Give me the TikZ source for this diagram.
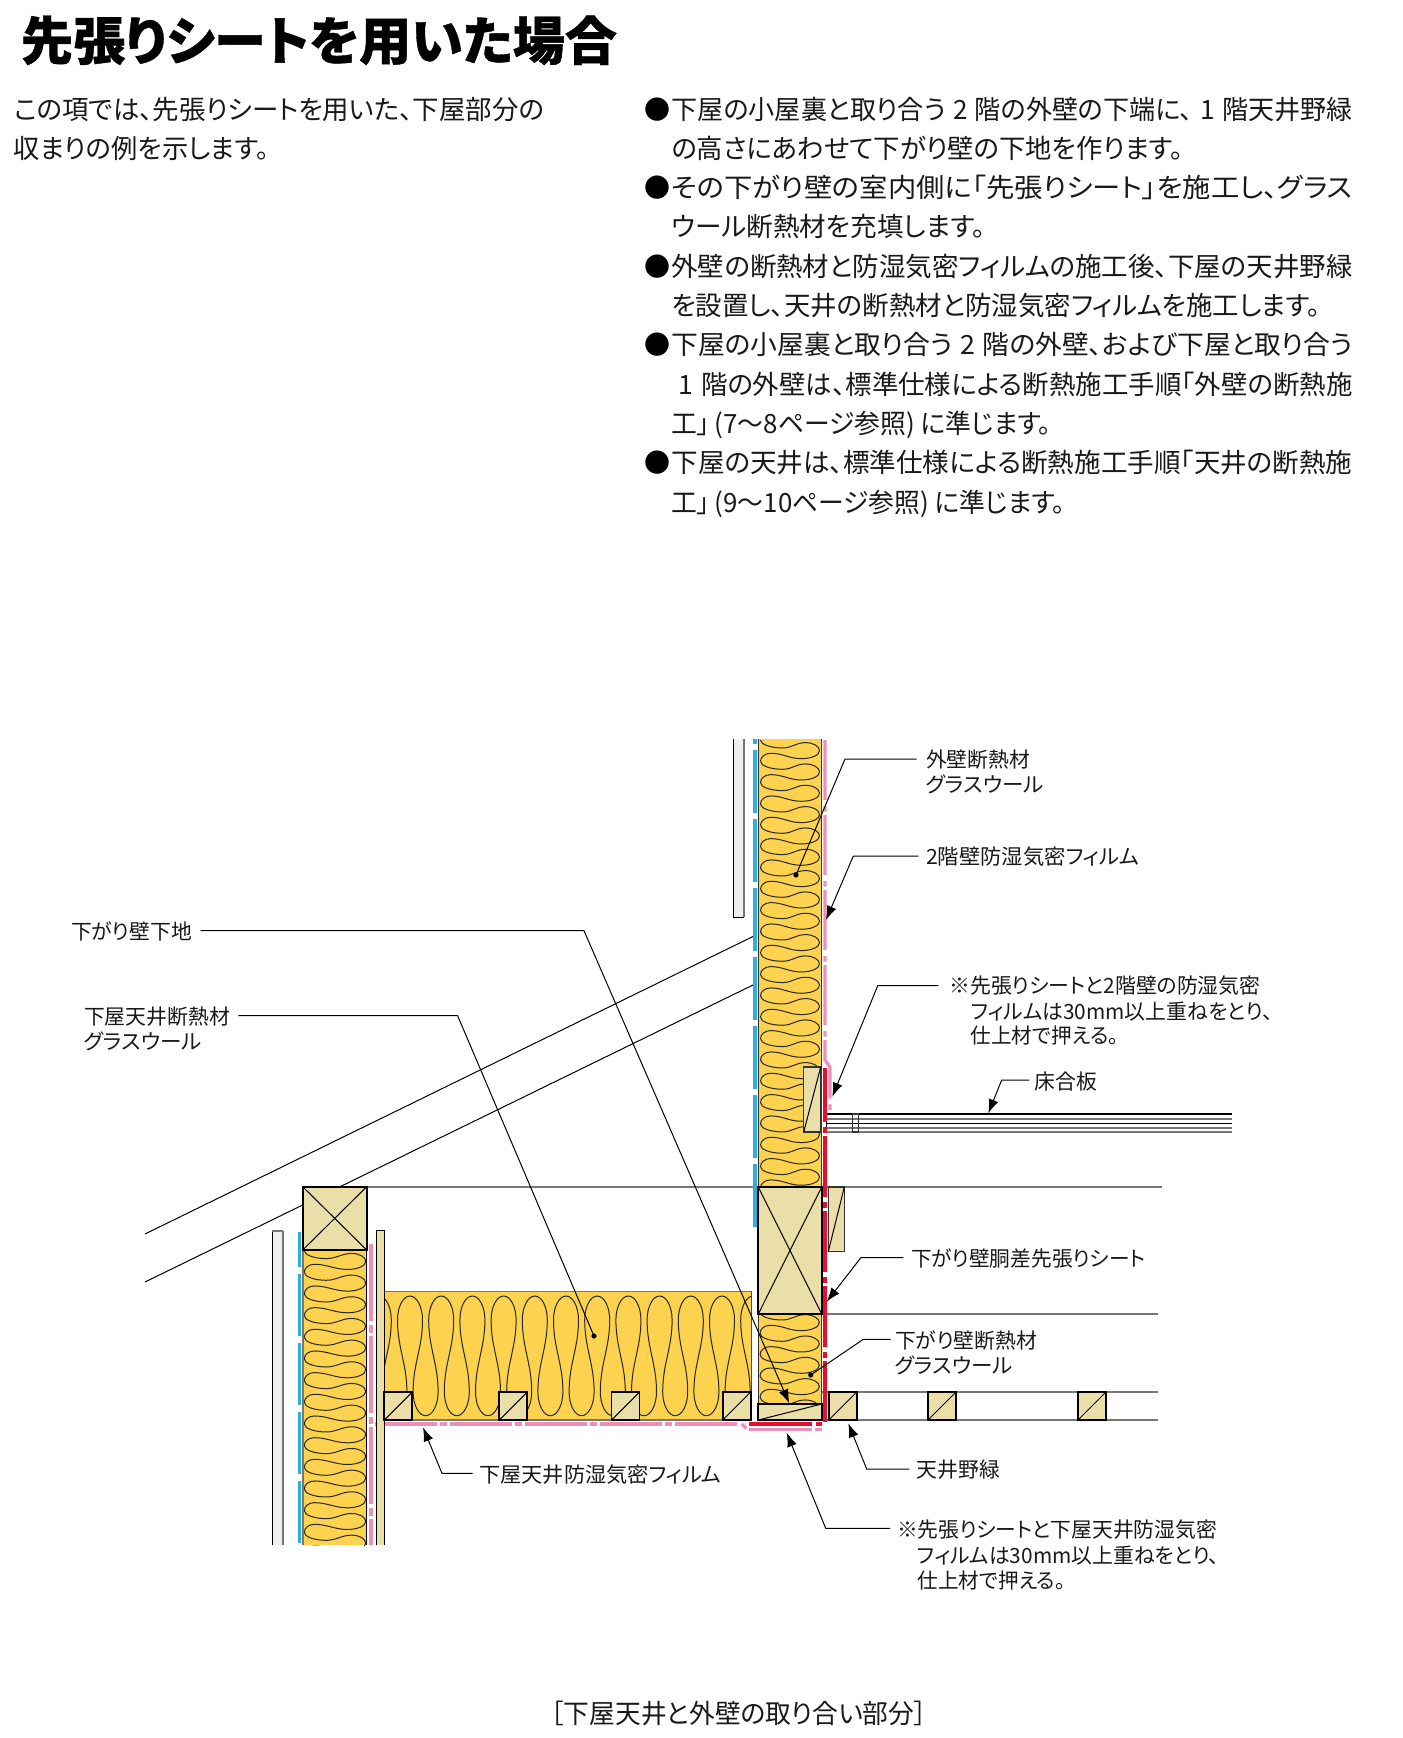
\documentclass[tikz,border=0pt]{standalone}
\usepackage{fontspec}
\usepackage{graphicx}
\usetikzlibrary{arrows.meta}
\newfontfamily\jp[RawFeature={+palt}]{Noto Sans CJK JP}
\newfontfamily\jpt[RawFeature={+palt},BoldFeatures={FakeBold=.7}]{Noto Sans CJK JP}
\definecolor{wool}{HTML}{FCD24F}
\definecolor{wood}{HTML}{EADFA9}
\definecolor{board}{HTML}{EFEFEF}
\definecolor{vapor}{HTML}{EE8FB8}
\definecolor{sheet}{HTML}{E60F2D}
\definecolor{airb}{HTML}{2FAEE0}
\definecolor{lineg}{HTML}{777777}
\tikzset{
  txt/.style={anchor=base west,inner sep=0pt,outer sep=0pt,text=black!90},
  wave/.style={line width=.5pt,draw=black!85},
  leader/.style={line width=.5pt,draw=black},
  arrowed/.style={leader,-{Latex[length=7pt,width=5pt]}},
  thin line/.style={line width=.5pt,draw=black},
  gline/.style={line width=.8pt,draw=lineg},
  timber/.style={fill=wood,draw=black,line width=.85pt},
  timberlt/.style={fill=wood,draw=black!80,line width=.55pt},
  inner cross/.style={line width=.5pt,draw=black},
  pinkfilm/.style={line width=1.65pt,draw=vapor},
  redfilm/.style={line width=1.75pt,draw=sheet},
  bluefilm/.style={line width=1.65pt,draw=airb},
}
\newcommand\dg[1]{\kern.28em #1\kern.28em}
% name x ycentre width text
\newcommand\bodyline[5]{\node[txt,font=\jp\fontsize{13.25pt}{13.25pt}\selectfont] (#1) at (#2,#3+10) {\resizebox{\dimexpr #4pt/2\relax}{\height}{#5}};}
\newcommand\labline[5]{\node[txt,font=\jp\fontsize{10.5pt}{10.5pt}\selectfont] (#1) at (#2,#3+8) {\resizebox{\dimexpr #4pt/2\relax}{\height}{#5}};}
\newcommand\bull[2]{\node[anchor=base,inner sep=0pt,font=\jp\fontsize{13pt}{13pt}\selectfont] (#1) at (657.5,#2+10) {●};}
% L R y0 pitch n
\newcommand\wavesV[5]{%
  \foreach \k in {0,...,#5}{%
    \pgfmathsetmacro\ya{#3+\k*#4}%
    \pgfmathsetmacro\yb{\ya-#4/2}%
    \pgfmathsetmacro\yc{\ya-#4}%
    \draw[wave] (#1,\ya) .. controls (#1,\ya-4.4) and (#1+4.5,\ya-8) .. (#1+10,\ya-8)
      .. controls (#1+23,\ya-8) and (#2-31,\yb+8) .. (#2-18,\yb+8)
      .. controls (#2-8,\yb+8) and (#2,\yb+4.4) .. (#2,\yb)
      .. controls (#2,\yb-4.4) and (#2-6.3,\yb-8) .. (#2-14,\yb-8)
      .. controls (#2-24,\yb-8) and (#1+32,\yc+8) .. (#1+22,\yc+8)
      .. controls (#1+10,\yc+8) and (#1,\yc+4.4) .. (#1,\yc);
  }}
\begin{document}
\begin{tikzpicture}[x=.5pt,y=-.5pt]
\useasboundingbox (0,0) rectangle (1402,1738);
\fill[white] (0,0) rectangle (1402,1738);

% ---------- heading and text
\node[txt,font=\jpt\bfseries\fontsize{26pt}{26pt}\selectfont,text=black] (title) at (21,60) {\resizebox{298pt}{\height}{先張りシートを用いた場合}};
\bodyline{i1}{14}{109.7}{530}{この項では、先張りシートを用いた、下屋部分の}
\bodyline{i2}{14}{148.5}{255}{収まりの例を示します。}

\bull{b1}{109.7}\bull{b2}{187.8}\bull{b3}{266.5}\bull{b4}{345}\bull{b5}{462.6}
\bodyline{t1}{671.5}{109.7}{681}{下屋の小屋裏と取り合う\dg{2}階の外壁の下端に、\dg{1}階天井野緑}
\bodyline{t2}{671.5}{148.5}{512}{の高さにあわせて下がり壁の下地を作ります。}
\bodyline{t3}{671.5}{187.8}{681}{その下がり壁の室内側に「先張りシート」を施工し、グラス}
\bodyline{t4}{671.5}{227}{314}{ウール断熱材を充填します。}
\bodyline{t5}{671.5}{266.5}{681}{外壁の断熱材と防湿気密フィルムの施工後、下屋の天井野緑}
\bodyline{t6}{671.5}{305.8}{649}{を設置し、天井の断熱材と防湿気密フィルムを施工します。}
\bodyline{t7}{671.5}{345}{681}{下屋の小屋裏と取り合う\dg{2}階の外壁、および下屋と取り合う}
\bodyline{t8}{671.5}{384.5}{681}{\dg{1}階の外壁は、標準仕様による断熱施工手順「外壁の断熱施}
\bodyline{t9}{671.5}{423.3}{380}{工」\kern.18em(7〜8ページ参照)\kern.22emに準じます。}
\bodyline{t10}{671.5}{462.6}{681}{下屋の天井は、標準仕様による断熱施工手順「天井の断熱施}
\bodyline{t11}{671.5}{502}{394}{工」\kern.18em(9〜10ページ参照)\kern.22emに準じます。}

% ---------- rafters
\coordinate (r1a) at (145,1234);\coordinate (r1b) at (755,935.5);
\coordinate (r2a) at (145,1282);\coordinate (r2b) at (755,984);
\draw[thin line] (r1a) -- (r1b);
\draw[thin line] (r2a) -- (r2b);

% ---------- horizontal lines of the ceilings
\draw[gline] (366,1187) -- (1162,1187);
\draw[gline] (822,1314) -- (1158,1314);
\draw[gline] (822,1392) -- (1158,1392);
\draw[gline] (822,1420) -- (1158,1420);

% ---------- upper wall
\fill[board] (733,739) rectangle (744.3,917);
\draw[line width=.5pt,black] (733,739) -- (733,917) -- (744.3,917);
\draw[line width=1pt,lineg] (744,739) -- (744,917);
\draw[bluefilm,dash pattern=on 31.25pt off 3.25pt] (755,1226.7) -- (755,739);
\fill[wool] (758.3,739) rectangle (821.7,1187);
\begin{scope}
\clip (758.3,739) rectangle (821.7,1187);
\wavesV{760.5}{819.5}{761.3}{21.33}{21}
\end{scope}
\draw[line width=.6pt,black!80] (758.3,739) -- (758.3,1187);
\draw[line width=.6pt,black!80] (821.7,739) -- (821.7,1187);
\draw[pinkfilm,dash pattern=on 30pt off 3pt on 2.75pt off 1.75pt] (825,740) -- (825,1060) -- (830,1067) -- (830,1111);

% fire block
\draw[timberlt] (803.7,1067) rectangle (820.7,1132);
\draw[inner cross] (803.7,1132) -- (820.7,1067);

% floor board
\fill[white] (826.7,1114) rectangle (1231.7,1132);
\draw[line width=.55pt,black] (826.7,1114) -- (1231.7,1114);
\draw[line width=.9pt,lineg] (826.7,1119) -- (1231.7,1119);
\draw[line width=.55pt,black] (826.7,1123.5) -- (1231.7,1123.5);
\draw[line width=.8pt,lineg] (826.7,1128) -- (1231.7,1128);
\draw[line width=1pt,lineg] (826.7,1132) -- (1231.7,1132);
\draw[line width=.55pt,black] (826.7,1114) -- (826.7,1132);
\draw[line width=.55pt,black!80] (852.3,1114) rectangle (858.3,1132);

% ---------- drop wall
\fill[wool] (758.3,1314) rectangle (821.7,1404);
\begin{scope}
\clip (758.3,1314) rectangle (821.7,1404);
\wavesV{760}{819.3}{1333.3}{21.33}{5}
\end{scope}
\draw[line width=.6pt,black!80] (758.3,1314) -- (758.3,1404);
\draw[line width=.6pt,black!80] (821.7,1314) -- (821.7,1404);
\draw[timber] (758.3,1187) rectangle (821.7,1314);
\draw[inner cross] (758.3,1187) -- (821.7,1314);
\draw[inner cross] (821.7,1187) -- (758.3,1314);
\draw[timber] (758.3,1404) rectangle (821.7,1420);
\draw[inner cross] (758.3,1420) -- (821.7,1404);
\draw[timberlt] (828.3,1187) rectangle (844.3,1251.7);
\draw[inner cross] (828.3,1251.7) -- (844.3,1187);

% ---------- lower-roof ceiling
\fill[wool] (384.3,1291.3) rectangle (751.7,1420);
\begin{scope}
\clip (384.3,1291.3) rectangle (751.7,1420);
\foreach \k in {-1,...,11}{%
  \pgfmathsetmacro\xa{410+\k*31.2}%
  \pgfmathsetmacro\xb{\xa+15.6}%
  \pgfmathsetmacro\xc{\xa+31.2}%
  \draw[wave] (\xa,1296) .. controls (\xa+6.9,1296) and (\xa+12.5,1306.8) .. (\xa+12.5,1320)
    .. controls (\xa+12.5,1348) and (\xb-12.5,1363.7) .. (\xb-12.5,1391.7)
    .. controls (\xb-12.5,1404.9) and (\xb-6.9,1415.7) .. (\xb,1415.7)
    .. controls (\xb+6.9,1415.7) and (\xb+12.5,1404.9) .. (\xb+12.5,1391.7)
    .. controls (\xb+12.5,1363.7) and (\xc-12.5,1348) .. (\xc-12.5,1320)
    .. controls (\xc-12.5,1306.8) and (\xc-6.9,1296) .. (\xc,1296);
}
\end{scope}
\draw[line width=.7pt,lineg] (384.3,1291.3) -- (751.7,1291.3);
\draw[line width=.7pt,black!70] (751.7,1291.3) -- (751.7,1420);
\draw[line width=.9pt,lineg] (384.3,1420) -- (751.7,1420);
\foreach \xj in {384.3,499.3,611.6,722.7,828.7,928,1078}{%
  \draw[timber] (\xj,1392) rectangle (\xj+28,1420);
  \draw[inner cross] (\xj,1420) -- (\xj+28,1392);
}

% ---------- lower wall
\fill[board] (272.3,1230.7) rectangle (283.3,1545);
\draw[line width=.5pt,black] (272.3,1545) -- (272.3,1230.7);
\draw[line width=.8pt,lineg] (272.3,1230.7) -- (283.3,1230.7);
\draw[line width=1pt,lineg] (283,1230.7) -- (283,1545);
\draw[bluefilm,dash pattern=on 31.2pt off 3.3pt,dash phase=13.7pt] (299.3,1232) -- (299.3,1545);
\fill[wool] (302.7,1250) rectangle (366.7,1545);
\begin{scope}
\clip (302.7,1250) rectangle (366.7,1545);
\wavesV{304.3}{365.7}{1250.6}{21.67}{15}
\end{scope}
\draw[line width=.9pt,lineg] (302.7,1250) -- (302.7,1545);
\draw[line width=.6pt,black] (366.7,1250) -- (366.7,1545);
\draw[line width=1.95pt,vapor,dash pattern=on 38.5pt off 2pt on 3.75pt off 1.6pt] (371,1244) -- (371,1545);
\draw[pinkfilm,dash pattern=on 30.75pt off 1.75pt on 3.25pt off 1.75pt] (375,1424) -- (738.7,1424);
\draw[pinkfilm] (741.7,1424) -- (746.4,1428.5);
\fill[wood] (376.3,1230.7) rectangle (384.3,1545);
\draw[line width=.55pt,black] (376.3,1545) -- (376.3,1230.7) -- (384.3,1230.7) -- (384.3,1545);
\draw[timber] (384.3,1392) rectangle (412.3,1420);
\draw[inner cross] (384.3,1420) -- (412.3,1392);
\draw[timber] (302.7,1186.7) rectangle (366.7,1250);
\draw[inner cross] (302.7,1186.7) -- (366.7,1250);
\draw[inner cross] (366.7,1186.7) -- (302.7,1250);

% ---------- air-barrier sheet of the drop wall
\draw[redfilm,dash pattern=on 30.5pt off 2.35pt on 3.15pt off 1.5pt,dash phase=3.5pt] (824.8,1068) -- (824.8,1425);
\draw[redfilm,line width=1.6pt] (749.3,1424) -- (811.7,1424);
\draw[redfilm,line width=1.6pt] (816,1424) -- (821.7,1424);
\draw[pinkfilm,line width=1.5pt] (749.3,1429) -- (811.7,1429);
\draw[pinkfilm,line width=1.5pt] (815,1429) -- (821.7,1429);

% ---------- labels
\labline{l1}{926}{759.3}{104}{外壁断熱材}
\labline{l1b}{926}{784.3}{118}{グラスウール}
\labline{l2}{926}{856.5}{213}{2階壁防湿気密フィルム}
\labline{l3}{949.5}{985.5}{311}{※先張りシートと2階壁の防湿気密}
\labline{l3b}{970.7}{1011}{302}{フィルムは30mm以上重ねをとり、}
\labline{l3c}{970.7}{1035}{148}{仕上材で押える。}
\labline{l4}{1034.5}{1081.7}{62.5}{床合板}
\labline{l5}{911}{1258.3}{234.5}{下がり壁胴差先張りシート}
\labline{l6}{895}{1340.7}{142}{下がり壁断熱材}
\labline{l6b}{895}{1365.7}{118}{グラスウール}
\labline{l7}{916.7}{1469.3}{83.5}{天井野緑}
\labline{l8}{897}{1529.3}{320}{※先張りシートと下屋天井防湿気密}
\labline{l8b}{917.5}{1555}{302}{フィルムは30mm以上重ねをとり、}
\labline{l8c}{917.5}{1580}{148}{仕上材で押える。}
\labline{l9}{479.5}{1474.3}{242}{下屋天井防湿気密フィルム}
\labline{l10}{71}{931.7}{121}{下がり壁下地}
\labline{l11}{84}{1016.7}{146}{下屋天井断熱材}
\labline{l11b}{84}{1041.7}{118}{グラスウール}
\bodyline{cap}{551}{1713}{376}{［下屋天井と外壁の取り合い部分］}

% ---------- leaders
\coordinate (s1) at (916.7,759);\coordinate (e1) at (845,759);\coordinate (d1) at (796,875);
\draw[leader] (s1) -- (e1) -- (d1);
\fill (d1) circle (2.6);
\coordinate (s2) at (918.3,856);\coordinate (e2) at (853.3,856);\coordinate (a2) at (826,920);
\draw[arrowed] (s2) -- (e2) -- (a2);
\coordinate (s3) at (938.3,985.7);\coordinate (e3) at (877.7,985.7);\coordinate (a3) at (832.3,1096.7);
\draw[arrowed] (s3) -- (e3) -- (a3);
\coordinate (s4) at (1029.3,1080);\coordinate (e4) at (1001.7,1080);\coordinate (a4) at (988.3,1113.3);
\draw[arrowed] (s4) -- (e4) -- (a4);
\coordinate (s5) at (903.3,1257.5);\coordinate (e5) at (861,1257.5);\coordinate (a5) at (826.7,1301.7);
\draw[arrowed] (s5) -- (e5) -- (a5);
\coordinate (s6) at (890.7,1339.3);\coordinate (e6) at (863.3,1339.3);\coordinate (d6) at (810.7,1375);
\draw[leader] (s6) -- (e6) -- (d6);
\fill (d6) circle (2.6);
\coordinate (s7) at (909.3,1469);\coordinate (e7) at (866.7,1469);\coordinate (a7) at (848.3,1423.3);
\draw[arrowed] (s7) -- (e7) -- (a7);
\coordinate (s8) at (890,1528.3);\coordinate (e8) at (825.7,1528.3);\coordinate (a8) at (786.7,1432.7);
\draw[arrowed] (s8) -- (e8) -- (a8);
\coordinate (s9) at (472.7,1473.3);\coordinate (e9) at (442,1473.3);\coordinate (a9) at (423,1427.3);
\draw[arrowed] (s9) -- (e9) -- (a9);
\coordinate (s10) at (200.7,930.7);\coordinate (e10) at (584,930.7);\coordinate (a10) at (789.3,1403.3);
\draw[arrowed] (s10) -- (e10) -- (a10);
\coordinate (s11) at (238.3,1015.7);\coordinate (e11) at (457.6,1015.7);\coordinate (d11) at (594,1336);
\draw[leader] (s11) -- (e11) -- (d11);
\fill (d11) circle (2.6);
\end{tikzpicture}
\end{document}
